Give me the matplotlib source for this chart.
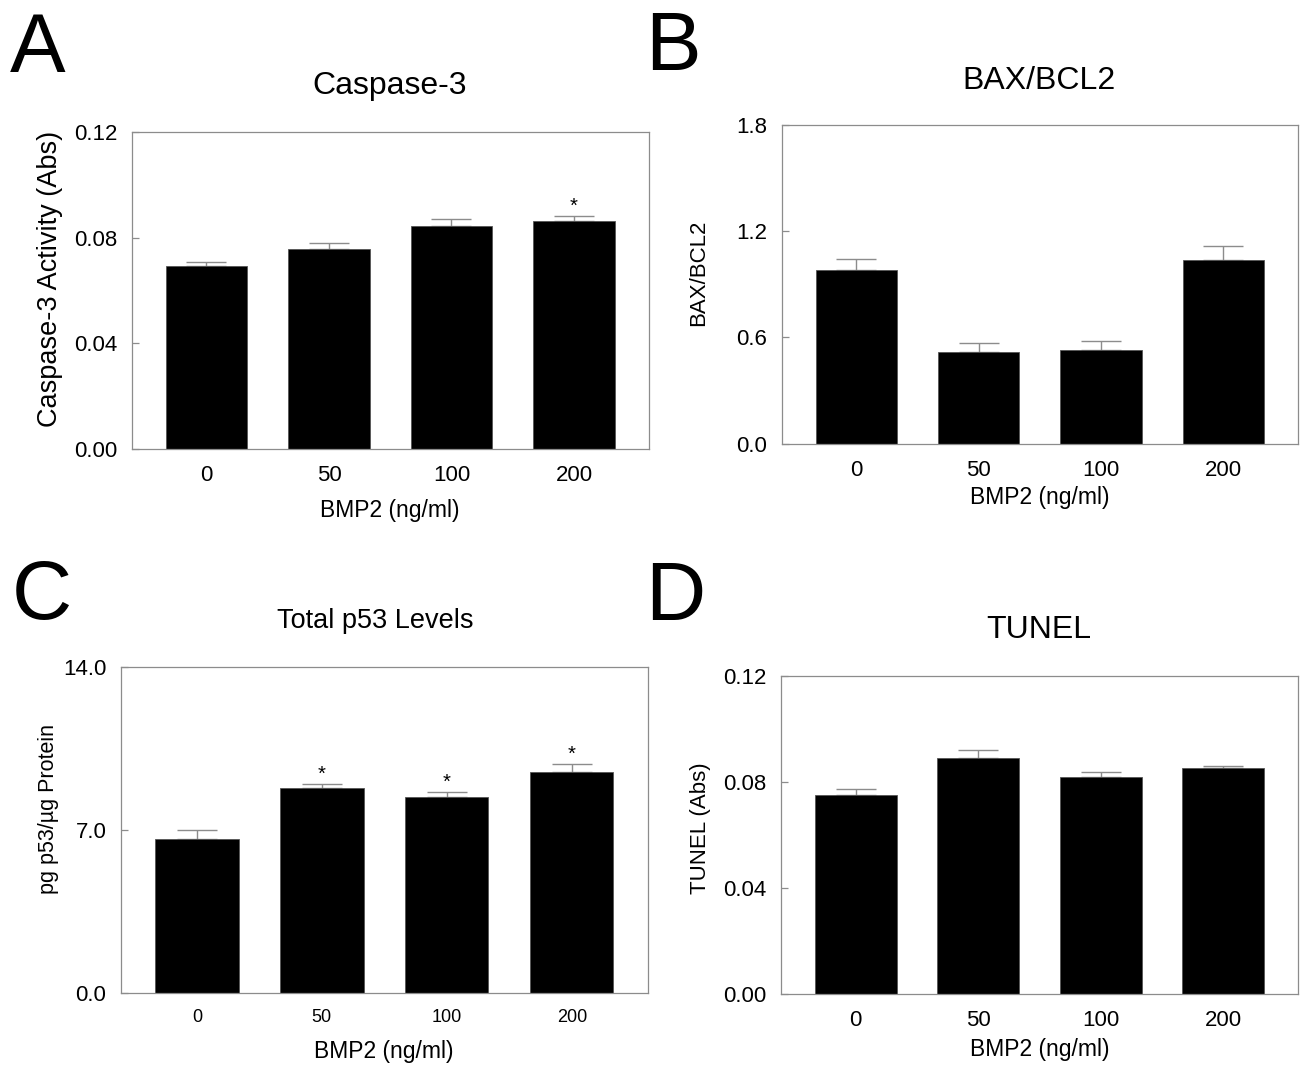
import matplotlib
matplotlib.use('Agg')
import matplotlib.pyplot as plt
import numpy as np

plt.rcParams['font.family'] = ['Liberation Sans', 'DejaVu Sans']

# Dados (média e erro padrão, só a barra superior)
doses = ['0', '50', '100', '200']

casp_mean = [0.0693, 0.0758, 0.0843, 0.0862]
casp_err = [0.0014, 0.0021, 0.0028, 0.0019]
casp_sig = [False, False, False, True]

bax_mean = [0.982, 0.516, 0.527, 1.034]
bax_err = [0.060, 0.054, 0.054, 0.083]
bax_sig = [False, False, False, False]

p53_mean = [6.63, 8.80, 8.44, 9.51]
p53_err = [0.38, 0.18, 0.19, 0.35]
p53_sig = [False, True, True, True]

tunel_mean = [0.0751, 0.0889, 0.0818, 0.0852]
tunel_err = [0.0022, 0.0029, 0.0019, 0.0009]
tunel_sig = [False, False, False, False]

W, H = 1308, 1068
fig = plt.figure(figsize=(W / 100, H / 100), dpi=100)
GREY = '#8c8c8c'


def px_rect(left, top, right, bottom):
    return [left / W, 1 - bottom / H, (right - left) / W, (bottom - top) / H]


def ftext(x, y, s, **kw):
    fig.text(x / W, 1 - y / H, s, **kw)


def painel(rect, means, errs, sig, yticks, yticklabels, xtick_size=16):
    ax = fig.add_axes(px_rect(*rect))
    x = np.arange(len(doses))
    ax.bar(x, means, width=0.667, color='black', edgecolor='#555555', linewidth=0.6, zorder=2)
    ax.errorbar(x, means, yerr=[np.zeros(len(means)), errs], fmt='none',
                ecolor=GREY, elinewidth=1, capsize=14.5, capthick=1, zorder=1)
    for xi, m, e, s in zip(x, means, errs, sig):
        if s:
            ax.annotate('*', (xi, m + e), xytext=(0, 3), textcoords='offset points',
                        ha='center', va='baseline', fontsize=14.5)
    ax.set_xlim(-0.61, 3.61)
    ax.set_ylim(yticks[0], yticks[-1])
    ax.set_xticks(x)
    ax.set_xticklabels(doses, fontsize=xtick_size)
    ax.set_yticks(yticks)
    ax.set_yticklabels(yticklabels, fontsize=16)
    ax.tick_params(axis='x', length=0, pad=11.5)
    ax.tick_params(axis='y', direction='in', length=5, width=0.9, color=GREY, pad=10.4)
    for sp in ax.spines.values():
        sp.set_color(GREY)
        sp.set_linewidth(0.9)
    return ax


# A - Caspase-3
painel((131.7, 131.7, 648.7, 449.3), casp_mean, casp_err, casp_sig,
       [0, 0.04, 0.08, 0.12], ['0.00', '0.04', '0.08', '0.12'])
ftext(10, 72, 'A', fontsize=60, va='baseline', ha='left')
ftext(390, 94, 'Caspase-3', fontsize=23, ha='center', va='baseline')
ftext(50, 279, 'Caspase-3 Activity (Abs)', fontsize=19.5, rotation=90, ha='center', va='center')
ftext(390, 517, 'BMP2 (ng/ml)', fontsize=16.5, ha='center', va='baseline')

# B - BAX/BCL2
painel((781.7, 124.7, 1298, 443.6), bax_mean, bax_err, bax_sig,
       [0, 0.6, 1.2, 1.8], ['0.0', '0.6', '1.2', '1.8'])
ftext(645, 70, 'B', fontsize=60, va='baseline', ha='left')
ftext(1039, 88.7, 'BAX/BCL2', fontsize=23, ha='center', va='baseline')
ftext(698.5, 273, 'BAX/BCL2', fontsize=16, rotation=90, ha='center', va='center')
ftext(1040, 504.4, 'BMP2 (ng/ml)', fontsize=16.5, ha='center', va='baseline')

# C - p53 total
painel((120.7, 667.3, 648, 993.3), p53_mean, p53_err, p53_sig,
       [0, 7, 14], ['0.0', '7.0', '14.0'], xtick_size=13)
ftext(12, 619, 'C', fontsize=60, va='baseline', ha='left')
ftext(375, 628, 'Total p53 Levels', fontsize=19.5, ha='center', va='baseline')
ftext(49, 809, 'pg p53/µg Protein', fontsize=15.5, rotation=90, ha='center', va='center')
ftext(384, 1058, 'BMP2 (ng/ml)', fontsize=16.5, ha='center', va='baseline')

# D - TUNEL
painel((781, 675.6, 1298, 994), tunel_mean, tunel_err, tunel_sig,
       [0, 0.04, 0.08, 0.12], ['0.00', '0.04', '0.08', '0.12'])
ftext(645, 620, 'D', fontsize=60, va='baseline', ha='left')
ftext(1039, 638, 'TUNEL', fontsize=23, ha='center', va='baseline')
ftext(700, 828, 'TUNEL (Abs)', fontsize=16, rotation=90, ha='center', va='center')
ftext(1039.5, 1056, 'BMP2 (ng/ml)', fontsize=16.5, ha='center', va='baseline')

fig.savefig('out.png', dpi=100, facecolor='white')
